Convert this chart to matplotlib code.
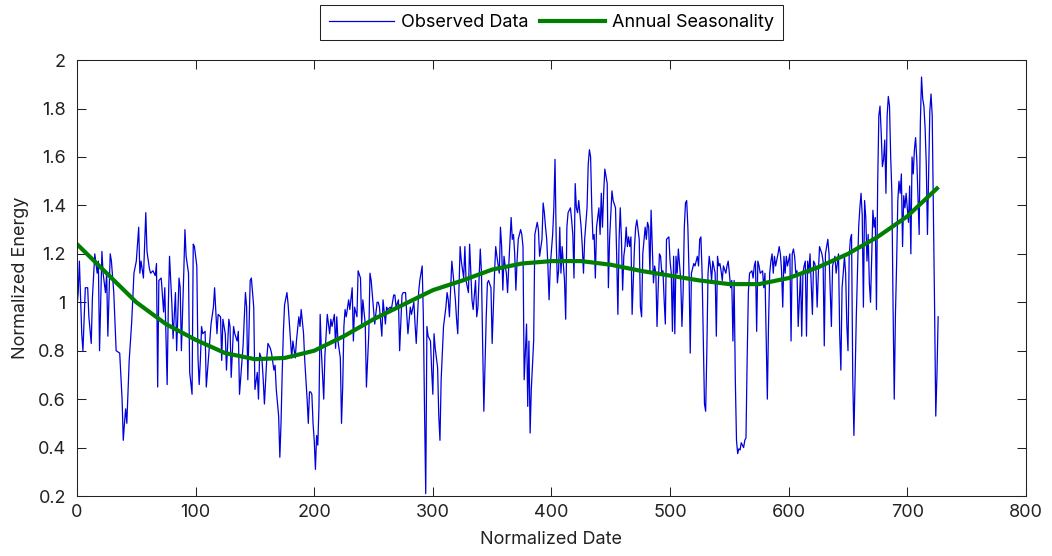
"""
Observed energy vs annual seasonality
"""
import matplotlib.pyplot as plt
from matplotlib.ticker import FuncFormatter

plt.rcParams['font.family'] = ['Inter', 'DejaVu Sans']

date = [
    0, 1, 2, 4, 5, 7, 9, 10, 12, 13, 15, 17, 18, 19, 21, 22, 24, 25, 26, 28,
    29, 31, 33, 36, 38, 39, 40, 41, 42, 44, 46, 47, 48, 50, 52, 53, 54, 56, 57, 58,
    59, 61, 62, 64, 66, 67, 68, 69, 71, 73, 74, 76, 77, 78, 80, 81, 83, 84, 86,
    87, 88, 90, 91, 92, 94, 95, 97, 98, 99,
    101, 102, 103, 104, 105, 106, 108, 109, 111, 112,
    113, 115, 116, 118, 119, 121, 122, 123, 125, 126,
    128, 129, 130, 132, 133, 135, 136, 137, 139, 140,
    142, 143, 144, 146, 147, 149, 150, 152, 153, 154,
    156, 157, 158, 160, 161, 163, 164, 166, 167, 168,
    170, 171, 172, 173, 174, 175, 177, 178, 180, 181,
    182, 184,
    185, 187, 188, 189, 191, 192, 194, 195, 196, 197,
    198, 199, 200, 201, 202, 203, 204, 205, 206, 208,
    209, 211, 213, 214, 215, 217, 218, 219, 220, 222,
    223, 224, 225, 226, 227, 229, 230, 232, 233, 234,
    236, 237, 239, 240, 241, 243, 244, 246, 247, 248,
    250, 251, 253, 254, 255, 257, 258, 260, 261, 262,
    264, 265, 267, 268, 269, 271, 272, 274, 275, 277,
    278, 279, 281, 282, 284, 285, 286, 288, 289, 291,
    292, 293, 294, 295, 296, 298, 299, 300, 301, 302,
    304, 305, 306, 307, 308, 309, 311, 312, 313, 314,
    316, 317, 319, 320, 321, 323, 324, 326, 327, 328,
    330, 331, 333, 334, 336, 337, 338, 340, 341, 342,
    343, 345, 346, 347, 349, 350, 352, 353, 354, 356,
    357, 358, 359, 360, 361, 362, 363, 364, 366, 367,
    368, 369,
    370, 371, 372, 374, 375, 376, 377, 379, 380, 381,
    382, 383, 385, 386, 388, 389, 390, 392, 393, 394,
    395, 396, 397, 398, 399, 401, 402, 403, 404, 405,
    406, 407, 408, 409, 411, 412, 413, 414, 416, 417,
    418, 419, 420, 421, 422, 423, 425, 426, 427, 428,
    430, 431, 432, 433, 434, 435, 436, 437, 438, 440,
    441, 442, 443, 444, 445, 447, 448, 449, 451, 452,
    454, 455, 456, 457, 458, 459, 460, 461, 462,
    463, 464, 465, 466, 467, 468, 470, 471, 472, 473,
    474, 475, 476, 477, 479, 480, 481, 482, 483, 484,
    486, 487, 488, 489, 490, 491, 492, 493, 494, 495,
    496, 497, 499, 500, 501, 502, 503, 504, 505, 506,
    507, 509, 510, 511, 512, 513, 514, 515, 516, 517,
    518, 520, 521, 522, 523, 524, 525, 526, 527, 528,
    529, 530, 531, 532, 533, 534, 535, 536, 538, 539,
    540, 541, 542, 543, 544, 545, 547, 548, 549, 550,
    551, 552, 553, 554,
    555, 556, 557, 558, 559, 560, 562, 563, 564, 565,
    566, 567, 569, 570, 571, 572, 573, 574, 575, 576,
    578, 579, 580, 581, 582, 583, 584, 585, 586, 587,
    588, 589, 591, 592, 593, 594, 595, 596, 597, 598,
    599, 601, 602, 603, 604, 605, 606, 607, 608, 610,
    611, 612, 613, 614, 615, 616, 617, 618, 620, 621,
    622, 623, 624, 625, 626, 628, 629, 630, 631, 632,
    633, 634, 635, 636, 637, 638, 639, 640, 642, 643,
    644, 645, 646, 647, 648,
    649, 650, 651, 652, 653, 654, 655, 657, 658, 659,
    660, 661, 662, 663, 664, 665, 666, 667, 668, 669,
    671, 672, 673, 674, 675, 676, 677, 678, 679, 680,
    681, 682, 683, 684, 685, 686, 687, 688, 689, 690,
    691, 692, 693, 694, 695, 696, 697, 698, 699, 701,
    702, 703, 704, 705, 706, 707, 708, 710, 711, 712,
    713, 714, 715, 716, 717, 719, 720, 721, 722, 723,
    724, 725, 726,
]
energy = [
    0.98, 1.04, 1.17, 0.87, 0.80, 1.06, 1.06, 0.94, 0.83, 1.02, 1.20, 1.12, 1.17, 0.80, 1.21, 1.12, 1.04, 1.12, 0.86, 1.20,
    1.17, 1.04, 0.80, 0.79, 0.60, 0.43, 0.50, 0.56, 0.50, 0.76, 0.91, 1.01, 1.12, 1.17, 1.31, 1.12, 1.17, 1.10, 1.23, 1.37,
    1.21, 1.14, 1.12, 1.13, 1.11, 1.16, 0.65, 1.09, 1.10, 0.96, 1.06, 0.66, 0.99, 1.19, 0.99, 0.85, 1.04, 0.80, 1.10,
    1.06, 0.80, 1.12, 1.30, 1.19, 1.12, 0.71, 0.62, 1.24, 1.23,
    1.15, 0.77, 0.66, 0.76, 0.90, 0.87, 0.88, 0.65, 0.78, 0.85,
    0.91, 0.98, 1.06, 0.87, 0.95, 0.94, 0.76, 0.93, 0.87, 0.72,
    0.93, 0.90, 0.69, 0.90, 0.87, 0.84, 0.88, 0.62, 0.75, 0.82,
    1.04, 0.98, 0.68, 1.09, 1.10, 0.98, 0.64, 0.71, 0.60, 0.79,
    0.76, 0.68, 0.58, 0.77, 0.83, 0.81, 0.79, 0.72, 0.74, 0.64,
    0.53, 0.36, 0.50, 0.71, 0.88, 0.99, 1.04, 0.99, 0.84, 0.77,
    0.84, 0.77,
    0.84, 0.94, 0.90, 0.97, 0.87, 0.76, 0.60, 0.50, 0.63, 0.63,
    0.62, 0.50, 0.43, 0.31, 0.45, 0.41, 0.57, 0.95, 0.80, 0.60,
    0.78, 0.95, 0.87, 0.93, 0.90, 0.95, 0.81, 0.94, 0.84, 0.77,
    0.50, 0.65, 0.90, 0.97, 0.94, 1.01, 0.97, 1.06, 0.84, 0.98,
    0.94, 1.13, 1.10, 0.91, 1.01, 0.91, 0.65, 0.87, 1.12, 1.09,
    0.97, 0.91, 1.00, 1.00, 0.98, 0.86, 1.01, 0.91, 0.98, 0.97,
    0.98, 0.97, 1.03, 1.03, 0.98, 1.01, 0.80, 1.03, 1.04, 1.04,
    0.95, 0.87, 0.98, 0.95, 1.00, 0.91, 0.83, 1.04, 1.09, 1.15,
    0.94, 0.55, 0.21, 0.90, 0.86, 0.84, 0.72, 0.62, 0.87, 0.81,
    0.73, 0.53, 0.43, 0.68, 0.79, 0.90, 0.98, 1.04, 1.01, 0.94,
    1.17, 1.12, 1.01, 0.93, 0.87, 1.23, 1.17, 1.10, 1.23, 1.09,
    1.04, 1.24, 1.01, 0.97, 1.09, 0.94, 0.98, 1.22, 1.12, 0.82,
    0.55, 0.94, 1.08, 1.09, 1.06, 0.83, 1.12, 1.23, 1.19, 1.12,
    1.31, 1.23, 1.05, 1.19, 1.15, 1.12, 1.04, 1.15, 1.35, 1.26,
    1.28, 1.20,
    1.05, 1.17, 1.26, 1.30, 1.28, 1.23, 0.68, 0.91, 0.57, 0.84,
    0.46, 0.64, 0.84, 1.28, 1.33, 1.30, 1.19, 1.26, 1.41, 1.37,
    1.31, 1.26, 1.15, 1.01, 1.15, 1.28, 1.39, 1.59, 1.26, 1.08,
    1.13, 1.31, 1.12, 1.23, 1.09, 0.93, 1.31, 1.37, 1.39, 1.34,
    1.28, 1.10, 1.49, 1.39, 1.37, 1.42, 1.31, 1.23, 1.12, 1.26,
    1.39, 1.57, 1.63, 1.60, 1.39, 1.26, 1.28, 1.10, 1.31, 1.39,
    1.28, 1.45, 1.31, 1.45, 1.55, 1.49, 1.06, 1.26, 1.46, 1.42,
    1.39, 1.19, 0.95, 1.26, 1.39, 1.26, 1.05, 1.19, 1.23,
    1.31, 1.23, 1.27, 1.23, 1.27, 0.95, 1.23, 1.31, 1.34, 1.30,
    1.26, 0.98, 0.94, 1.20, 1.31, 1.26, 1.33, 1.31, 1.12, 1.38,
    1.08, 1.15, 1.12, 0.90, 1.06, 1.20, 1.19, 1.12, 1.13, 1.01,
    0.91, 1.26, 1.27, 1.17, 1.12, 0.88, 1.19, 0.87, 1.19, 1.12,
    1.22, 1.09, 0.90, 1.04, 1.31, 1.41, 1.42, 1.31, 1.12, 0.79,
    1.12, 1.16, 1.15, 1.17, 1.19, 1.15, 1.26, 1.27, 1.12, 0.84,
    0.58, 0.55, 0.80, 1.12, 1.19, 1.15, 1.09, 1.17, 1.12, 0.86,
    1.19, 1.15, 1.16, 1.13, 1.09, 1.15, 1.12, 1.15, 1.17, 1.12,
    1.06, 1.09, 0.84, 1.09,
    0.68, 0.43, 0.375, 0.395, 0.39, 0.42, 0.40, 0.43, 0.44, 0.77,
    1.04, 1.12, 1.13, 1.10, 1.15, 1.17, 0.88, 1.17, 1.15, 1.12,
    1.13, 1.06, 1.12, 0.86, 0.60, 0.91, 1.12, 1.17, 1.20, 1.12,
    1.19, 1.15, 1.20, 1.23, 1.20, 1.13, 0.98, 1.19, 1.12, 1.19,
    1.15, 1.20, 0.84, 1.20, 1.22, 1.19, 1.12, 1.13, 0.90, 1.12,
    0.86, 1.12, 1.15, 1.17, 0.86, 1.17, 1.12, 1.20, 0.95, 1.17,
    1.16, 1.13, 0.98, 1.12, 1.23, 1.20, 1.17, 0.82, 1.20, 1.23,
    1.26, 1.20, 1.05, 0.90, 1.15, 1.17, 1.19, 1.12, 1.20, 0.87,
    0.72, 1.06, 1.12, 1.19, 1.12,
    0.91, 0.80, 1.19, 1.26, 1.28, 0.69, 0.45, 0.94, 1.12, 1.31,
    1.39, 1.45, 1.36, 0.98, 1.42, 1.35, 1.17, 1.28, 1.08, 1.00,
    1.38, 1.31, 1.35, 0.97, 1.48, 1.77, 1.81, 1.70, 1.56, 1.59,
    1.67, 1.45, 1.77, 1.85, 1.81, 1.60, 1.45, 0.98, 0.60, 0.95,
    1.16, 1.42, 1.50, 1.45, 1.53, 1.23, 1.44, 1.39, 1.45, 1.33,
    1.48, 1.20, 1.60, 1.53, 1.63, 1.68, 1.59, 1.28, 1.74, 1.93,
    1.84, 1.81, 1.72, 1.57, 1.28, 1.79, 1.86, 1.77, 1.39, 0.98,
    0.53, 0.70, 0.94,
]
assert len(date) == len(energy)

# annual seasonality curve
season_date = [0, 25, 50, 75, 100, 125, 150, 175, 200, 225, 250, 275, 300, 325, 350,
               375, 400, 425, 450, 475, 500, 525, 550, 575, 600, 625, 650, 675, 700, 725]
season = [1.24, 1.12, 1.00, 0.91, 0.845, 0.79, 0.765, 0.77, 0.80, 0.86, 0.93, 0.99, 1.05, 1.09, 1.135,
          1.16, 1.17, 1.17, 1.155, 1.13, 1.11, 1.09, 1.075, 1.075, 1.10, 1.145, 1.20, 1.27, 1.355, 1.47]

xticks = [0, 100, 200, 300, 400, 500, 600, 700, 800]
yticks = [0.2, 0.4, 0.6, 0.8, 1.0, 1.2, 1.4, 1.6, 1.8, 2.0]

fig = plt.figure(figsize=(10.52, 5.56), dpi=100)
ax = fig.add_axes([0.0732, 0.1079, 0.902, 0.784])

ax.plot(date, energy, color='#0000dd', lw=0.9, label='Observed Data')
ax.plot(season_date, season, color='#007f00', lw=3, label='Annual Seasonality')

ax.set_xlim(0, 800)
ax.set_ylim(0.2, 2)
ax.set_xticks(xticks)
ax.set_yticks(yticks)
ax.yaxis.set_major_formatter(FuncFormatter(lambda v, p: '%g' % round(v, 1)))
ax.tick_params(direction='in', length=6.5, width=0.75, top=True, right=True,
               labelsize=13, colors='#222222')
ax.tick_params(axis='x', pad=6)
ax.tick_params(axis='y', pad=8)
for s in ax.spines.values():
    s.set_linewidth(0.75)
    s.set_color('#222222')

ax.set_xlabel('Normalized Date', fontsize=13, color='#222222', labelpad=7)
ax.set_ylabel('Normalized Energy', fontsize=13, color='#222222', labelpad=6)

leg = ax.legend(loc='lower center', bbox_to_anchor=(0.5, 1.046), ncol=2, fontsize=13,
                frameon=True, fancybox=False, edgecolor='#222222', framealpha=1,
                handlelength=3.6, handletextpad=0.4, columnspacing=0.6,
                borderpad=0.5, borderaxespad=0)
leg.get_frame().set_linewidth(0.75)

fig.savefig('out.png', dpi=100)
